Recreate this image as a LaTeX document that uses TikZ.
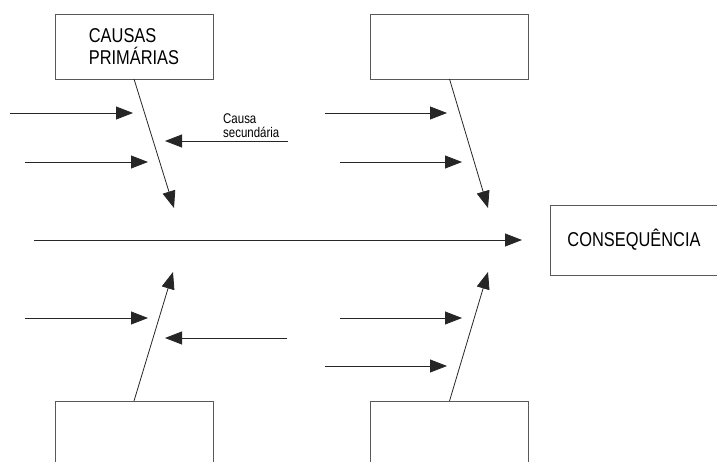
\documentclass[tikz,border=0pt]{standalone}
\usepackage{fontspec}
\setmainfont[FakeStretch=0.82]{Liberation Sans}
\usetikzlibrary{arrows.meta}
\begin{document}
\begin{tikzpicture}[x=1pt,y=-1pt,
  box/.style={draw=black!65, line width=0.9pt, inner sep=0pt, outer sep=0pt, minimum width=158pt},
  bone/.style={draw=black!85, line width=0.8pt, -{Triangle[length=17pt,width=13pt]}},
  big/.style={font=\fontsize{20}{22}\selectfont},
  small/.style={font=\fontsize{14}{14.5}\selectfont}]
\useasboundingbox (0,0) rectangle (717,462);
\clip (0,0) rectangle (717,462);
% boxes
\node[box, minimum height=65pt, big, align=left] (b1) at (134,46.5) {CAUSAS\\PRIMÁRIAS};
\node[box, minimum height=65pt] (b2) at (449.5,46.5) {};
\node[box, minimum height=75pt] (b3) at (134,438.5) {};
\node[box, minimum height=75pt] (b4) at (449.5,438.5) {};
\node[box, minimum width=168pt, minimum height=70pt, big] (c) at (634,240) {CONSEQUÊNCIA};
% bone tips
\coordinate (t1) at (174,208);
\coordinate (t2) at (488,208);
\coordinate (t3) at (173,272);
\coordinate (t4) at (488,272);
\draw[bone] (b1.south) -- (t1);
\draw[bone] (b2.south) -- (t2);
\draw[bone] (b3.north) -- (t3);
\draw[bone] (b4.north) -- (t4);
% spine
\coordinate (s0) at (34,240);
\coordinate (s1) at (522,240);
\draw[bone] (s0) -- (s1);
% secondary causes
\coordinate (a1s) at (10,113);  \coordinate (a1e) at (133,113);
\coordinate (a2s) at (25,162);  \coordinate (a2e) at (148,162);
\coordinate (a3s) at (288,141); \coordinate (a3e) at (165,141);
\coordinate (a4s) at (325,113); \coordinate (a4e) at (447,113);
\coordinate (a5s) at (340,162); \coordinate (a5e) at (462,162);
\coordinate (a6s) at (25,318);  \coordinate (a6e) at (148,318);
\coordinate (a7s) at (287,338); \coordinate (a7e) at (165,338);
\coordinate (a8s) at (340,318); \coordinate (a8e) at (462,318);
\coordinate (a9s) at (325,366); \coordinate (a9e) at (447,366);
\foreach \i in {1,...,9} {\draw[bone] (a\i s) -- (a\i e);}
\node[small, align=left, anchor=south west, inner sep=0pt] (lbl) at (223,138) {Causa\\secundária};
\end{tikzpicture}
\end{document}
